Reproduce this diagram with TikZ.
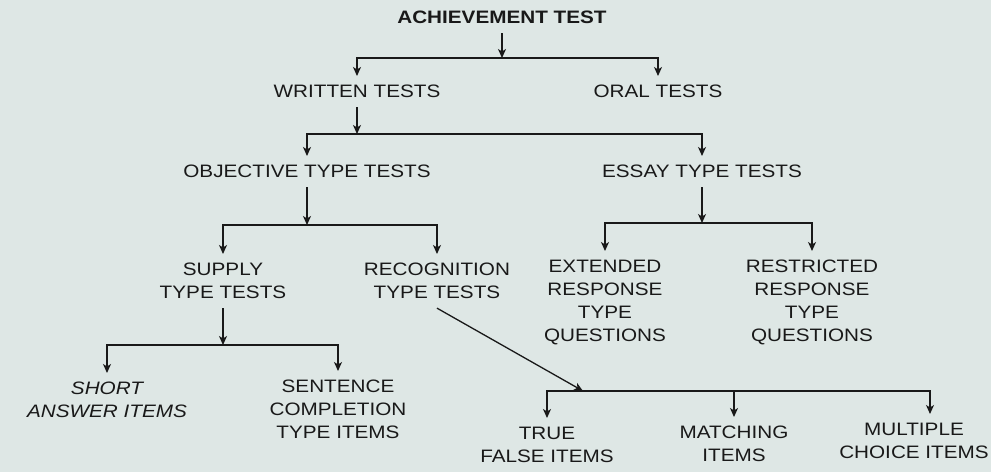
\documentclass[tikz,border=0pt]{standalone}
\usepackage{fontspec}
\setmainfont{Liberation Sans}[FakeStretch=1.15]
\usetikzlibrary{arrows.meta}
\definecolor{paper}{RGB}{222,231,229}
\definecolor{ink}{RGB}{25,25,25}

\begin{document}
\begin{tikzpicture}[x=1pt,y=-1pt]
\tikzset{TestStyle/.style ={anchor=north, align=center, inner xsep=2pt, inner ysep=9pt,
    text=ink, font=\fontsize{18}{23}\selectfont}}
\tikzset{EdgeStyle/.style ={draw=ink, line width=1.3pt, -{Stealth[length=9pt,width=8pt,inset=2.5pt]}}}
\fill[paper] (0,0) rectangle (991,472);
\useasboundingbox (0,0) rectangle (991,472);
\node[TestStyle,font=\fontsize{18}{23}\selectfont\bfseries] (ach) at (502,2) {ACHIEVEMENT TEST};
\node[TestStyle] (wri) at (357,76) {WRITTEN TESTS};
\node[TestStyle] (ora) at (658,76) {ORAL TESTS};
\node[TestStyle] (obj) at (307,156) {OBJECTIVE TYPE TESTS};
\node[TestStyle] (ess) at (702,156) {ESSAY TYPE TESTS};
\node[TestStyle] (sup) at (223,254) {SUPPLY\\TYPE TESTS};
\node[TestStyle] (rec) at (437,254) {RECOGNITION\\TYPE TESTS};
\node[TestStyle] (ext) at (605,251) {EXTENDED\\RESPONSE\\TYPE\\QUESTIONS};
\node[TestStyle] (res) at (812,251) {RESTRICTED\\RESPONSE\\TYPE\\QUESTIONS};
\node[TestStyle,font=\fontsize{18}{23}\selectfont\itshape] (sho) at (107,373) {SHORT\\ANSWER ITEMS};
\node[TestStyle] (sen) at (338,371) {SENTENCE\\COMPLETION\\TYPE ITEMS};
\node[TestStyle] (tru) at (547,418) {TRUE\\FALSE ITEMS};
\node[TestStyle] (mat) at (734,417) {MATCHING\\ITEMS};
\node[TestStyle] (mul) at (914,414) {MULTIPLE\\CHOICE ITEMS};
% branch points
\coordinate (j1) at (502,58);
\coordinate (j2) at (357,134);
\coordinate (j3) at (307,225);
\coordinate (j4) at (702,223);
\coordinate (j5) at (223,345);
\coordinate (j6) at (583,391);
\draw[EdgeStyle] (ach) -- (j1);
\foreach \c in {wri,ora} \draw[EdgeStyle] (j1) -| (\c);
\draw[EdgeStyle] (wri) -- (j2);
\foreach \c in {obj,ess} \draw[EdgeStyle] (j2) -| (\c);
\draw[EdgeStyle] (obj) -- (j3);
\foreach \c in {sup,rec} \draw[EdgeStyle] (j3) -| (\c);
\draw[EdgeStyle] (ess) -- (j4);
\foreach \c in {ext,res} \draw[EdgeStyle] (j4) -| (\c);
\draw[EdgeStyle] (sup) -- (j5);
\foreach \c in {sho,sen} \draw[EdgeStyle] (j5) -| (\c);
\draw[EdgeStyle] (rec.south) -- (j6);
\foreach \c in {tru,mat} \draw[EdgeStyle] (j6) -| (\c);
\draw[EdgeStyle] (j6) -| ([xshift=16pt]mul.north);
\end{tikzpicture}
\end{document}
